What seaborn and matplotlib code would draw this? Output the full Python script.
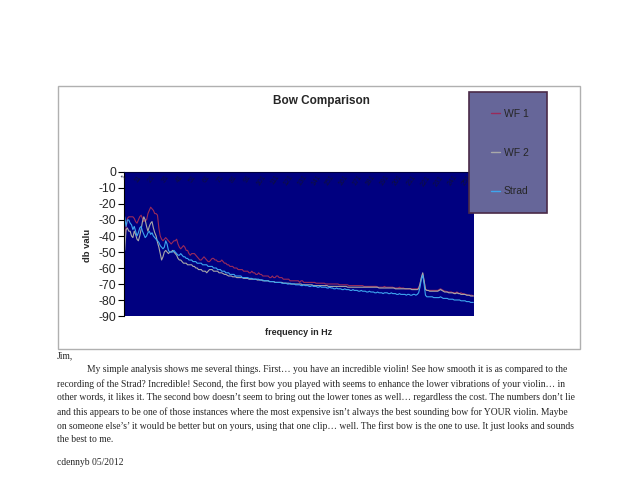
import matplotlib
matplotlib.use("Agg")
import matplotlib.pyplot as plt
import numpy as np
import pandas as pd
import seaborn as sns
from matplotlib.lines import Line2D
from matplotlib.patches import Rectangle

# dB values per FFT bin
wf1_db = [
    -41, -35, -29, -28, -28, -28, -28, -29, -31, -32, -30, -28, -27, -29, -31, -30,
    -30, -26, -24, -22, -23, -24, -26, -26, -27, -35, -40, -42, -43, -42, -41, -42,
    -43, -44, -45, -44, -43, -43, -42, -45, -47, -48, -47, -46, -47, -49, -49, -51,
    -52, -51, -51, -51, -52, -53, -54, -55, -55, -54, -53, -54, -55, -56, -56, -55,
    -54, -54, -55, -55, -56, -56, -56, -55, -56, -57, -57, -58, -58, -59, -59, -59,
    -60, -60, -60, -61, -61, -61, -61, -62, -62, -62, -62, -63, -63, -62, -63, -63,
    -64, -64, -63, -64, -64, -65, -65, -65, -65, -65, -66, -66, -65, -66, -66, -65,
    -65, -66, -66, -66, -67, -67, -67, -67, -67, -68, -68, -68, -68, -68, -68, -68,
    -69, -68, -68, -69, -69, -69, -69, -69, -69, -69, -69, -69, -69.5, -69.5, -69.5, -69.5,
    -69.5, -69.5, -69.5, -70, -70, -70, -70, -70, -70, -70, -70, -70, -70, -70.5, -70.5, -70.5,
    -70.5, -70.5, -70.5, -70.5, -71, -71, -71, -71, -71, -71, -71, -71, -71, -71, -71, -71.5,
    -71.5, -71.5, -71.5, -71.5, -71.5, -71.5, -71.5, -71.5, -71.5, -72, -72, -72, -72, -72, -71.5, -72,
    -72, -72, -72, -72, -72, -72.5, -72.5, -72.5, -72.5, -72, -72.5, -72.5, -72.5, -73, -73, -73,
    -73, -73, -73, -73, -73, -73, -73, -72.5, -70, -66, -63.5, -68, -73, -74, -74, -74,
    -74, -74, -74, -74, -74, -74, -73.5, -73, -73.5, -74, -74.5, -74.5, -75, -75, -75, -75,
    -75.5, -75.5, -75.5, -75, -75.5, -76, -75.5, -76, -76, -76.5, -76.5, -77, -77, -77, -77, -77.5,
]
wf2_db = [
    -49, -36, -35, -37, -37, -40, -41, -37, -39, -42, -43, -40, -36, -31, -28, -30,
    -34, -37, -34, -32, -31, -35, -38, -40, -44, -47, -51, -55, -53, -50, -49, -50,
    -51, -50, -50, -49, -50, -51, -52, -54, -55, -55, -56, -57, -57, -57, -58, -58,
    -58, -58, -59, -59, -60, -60, -61, -61, -61, -62, -62, -62, -63, -62, -61, -61,
    -61, -62, -62, -62, -62, -63, -63, -63, -63.5, -64, -64, -64.5, -65, -65, -65, -65.5,
    -65.5, -65.5, -66, -66, -66, -66, -66, -66.5, -66.5, -66.5, -66.5, -67, -67, -67, -67, -67,
    -67, -67.5, -67.5, -67.5, -67.5, -68, -68, -68, -68, -68, -68.5, -68.5, -68.5, -68.5, -69, -69,
    -69, -69, -69, -69, -69.5, -69.5, -69.5, -69.5, -69.5, -70, -70, -70, -70, -70, -70, -70,
    -70, -70, -70.5, -70.5, -70.5, -70.5, -70.5, -70.5, -70.5, -70.5, -71, -71, -71, -71, -71, -71,
    -71, -71, -71, -71, -71, -71.5, -71.5, -71.5, -71.5, -71.5, -71.5, -71.5, -71.5, -71.5, -71.5, -71.5,
    -71.5, -71.5, -71.5, -72, -72, -72, -72, -72, -72, -72, -72, -72, -72, -72, -72, -72,
    -72, -72, -72, -72, -72, -72, -72, -72, -72, -72, -72.5, -72.5, -72.5, -72.5, -72.5, -72.5,
    -72.5, -72.5, -72.5, -72.5, -72.5, -72.5, -73, -73, -73, -73, -73, -73, -73, -73, -73, -73,
    -73, -73, -73.5, -73.5, -73.5, -73.5, -73.5, -73, -70, -66, -63, -68, -73.5, -74, -74, -74.5,
    -74.5, -74.5, -74.5, -74.5, -74.5, -74.5, -74, -73.5, -74, -74.5, -75, -75, -75, -75.5, -75.5, -75.5,
    -75.5, -76, -76, -75.5, -76, -76, -76.5, -76.5, -76.5, -76.5, -77, -77, -77, -77.5, -77.5, -77.5,
]
strad_db = [
    -28, -34, -30, -30, -32, -33, -36, -34, -37, -40, -38, -35, -34, -37, -39, -41,
    -40, -38, -37, -39, -38, -40, -41, -42, -43, -44, -46, -47, -48, -47, -43, -45,
    -49, -50, -50, -50, -49, -50, -51, -52, -52, -51, -52, -53, -53, -54, -54, -55,
    -55, -55, -56, -56, -56, -57, -57, -57, -57, -58, -58, -58, -58, -59, -59, -59,
    -59, -60, -60, -60, -61, -61, -61, -62, -62, -62, -63, -63, -63, -64, -64, -64,
    -64, -65, -65, -65, -65, -65, -66, -66, -66, -66, -66, -66.5, -66.5, -66.5, -67, -67,
    -67, -67, -67, -67.5, -67.5, -67.5, -68, -68, -68, -68, -68.5, -68.5, -68.5, -68.5, -69, -69,
    -69, -69, -69, -69.5, -69.5, -69.5, -69.5, -70, -70, -69.5, -70, -70, -70, -70.5, -70.5, -70.5,
    -70.5, -71, -71, -70.5, -71, -71, -71, -71.5, -71.5, -71, -71.5, -71.5, -71.5, -72, -72, -71.5,
    -72, -72, -72, -72, -72.5, -72.5, -72, -72.5, -72.5, -73, -73, -72.5, -73, -73, -73, -73.5,
    -73.5, -73, -73.5, -73.5, -73.5, -74, -74, -73.5, -74, -74, -74, -74.5, -74.5, -74, -74.5, -74.5,
    -74.5, -75, -75, -74.5, -75, -75, -75, -75.5, -75.5, -75, -75.5, -75.5, -75.5, -76, -75.5, -75.5,
    -75.5, -76, -76, -75.5, -76, -76, -76, -76.5, -76.5, -76, -76.5, -76.5, -76.5, -76.5, -77, -76.5,
    -76.5, -77, -77, -76.5, -76.5, -77, -76.5, -75.5, -72, -67, -64.5, -70, -77, -78, -78, -78,
    -78, -78, -78.5, -78.5, -78.5, -78.5, -78.5, -78, -78.5, -79, -79, -79, -79, -79.5, -79.5, -79.5,
    -79.5, -80, -80, -80, -80, -80, -80.5, -80.5, -80.5, -80.5, -81, -81, -81, -81.5, -81.5, -81.5,
]
series_names = ["WF 1", "WF 2", "Strad"]
series_colors = ["#9a2a5a", "#a9a9a9", "#3ea6ee"]
bins = list(range(1, len(wf1_db) + 1))
bin_labels = bins[::10]
db_ticks = list(range(0, -91, -10))

letter = [
    "Jim,",
    "My simple analysis shows me several things. First\u2026 you have an incredible violin! See how smooth it is as compared to the",
    "recording of the Strad? Incredible! Second, the first bow you played with seems to enhance the lower vibrations of your violin\u2026 in",
    "other words, it likes it. The second bow doesn\u2019t seem to bring out the lower tones as well\u2026 regardless the cost. The numbers don\u2019t lie",
    "and this appears to be one of those instances where the most expensive isn\u2019t always the best sounding bow for YOUR violin. Maybe",
    "on someone else\u2019s\u2019 it would be better but on yours, using that one clip\u2026 well. The first bow is the one to use. It just looks and sounds",
    "the best to me.",
]
signature = "cdennyb 05/2012"

df = pd.DataFrame({
    "bin": bins * 3,
    "db": wf1_db + wf2_db + strad_db,
    "series": [s for s in series_names for _ in bins],
})

sns.set_style("white")
plt.rcParams["font.family"] = ["Liberation Sans", "DejaVu Sans"]

W, H = 640, 494
fig = plt.figure(figsize=(W / 100, H / 100), dpi=100)
fig.patch.set_facecolor("white")


def fx(px):
    return px / W


def fy(py):
    return 1 - py / H


# outer chart frame
fig.patches.append(Rectangle((fx(58), fy(349)), fx(580) - fx(58), fy(86) - fy(349),
                             transform=fig.transFigure, fill=False,
                             edgecolor="#b0b0b0", lw=1.0))

ax = fig.add_axes([fx(124), fy(316), fx(474) - fx(124), fy(172) - fy(316)])
ax.set_facecolor("#000080")
sns.lineplot(data=df, x="bin", y="db", hue="series", hue_order=series_names,
             palette=dict(zip(series_names, series_colors)), estimator=None,
             sort=False, lw=0.8, ax=ax, legend=False)
ax.set_xlim(0.5, len(bins) + 0.5)
ax.set_ylim(-90, 0)
ax.set_xticks([])
ax.set_yticks(db_ticks)
ax.set_yticklabels([str(t) for t in db_ticks], fontsize=8.8)
ax.tick_params(axis="y", direction="out", length=4, width=0.8, pad=1.5, left=True, color="black")
ax.set_xlabel("")
ax.set_ylabel("")
for side in ["right", "bottom"]:
    ax.spines[side].set_visible(False)
ax.spines["left"].set_color("black")
ax.spines["left"].set_linewidth(0.8)
ax.spines["top"].set_color("#000040")

# category labels sit under the 0 line, inside the plot
for b in bin_labels:
    ax.text(b, -1.2, str(b), rotation=55, ha="center", va="top",
            fontsize=5, color="#10103a")

fig.text(fx(321), fy(101), "Bow Comparison", ha="center", va="center",
         fontsize=8.5, fontweight="bold")
fig.text(fx(299), fy(332), "frequency in Hz", ha="center", va="center",
         fontsize=6.5, fontweight="bold")
fig.text(fx(88), fy(245), "db valu", ha="center", va="center", rotation=90,
         fontsize=6.8, fontweight="bold")

# legend box
fig.patches.append(Rectangle((fx(469), fy(213)), fx(547) - fx(469), fy(92) - fy(213),
                             transform=fig.transFigure, facecolor="#666699",
                             edgecolor="#4a2a48", lw=1.2))
handles = [Line2D([0], [0], color=c, lw=1) for c in series_colors]
fig.legend(handles, series_names, loc="upper left",
           bbox_to_anchor=(fx(491), fy(109)), frameon=False, fontsize=7.5,
           handlelength=0.9, handletextpad=0.3, labelspacing=2.75,
           borderpad=0, borderaxespad=0)

# letter text under the chart
serif = ["Liberation Serif", "DejaVu Serif"]
fs = 6.9
fig.text(fx(57), fy(355.5), letter[0], ha="left", va="center", fontsize=fs, family=serif)
fig.text(fx(87), fy(370), letter[1], ha="left", va="center", fontsize=fs, family=serif)
for i, line in enumerate(letter[2:]):
    fig.text(fx(57), fy(384 + 13.9 * i), line, ha="left", va="center",
             fontsize=fs, family=serif)
fig.text(fx(57), fy(462), signature, ha="left", va="center", fontsize=fs, family=serif)

fig.savefig("out.png", dpi=100)
